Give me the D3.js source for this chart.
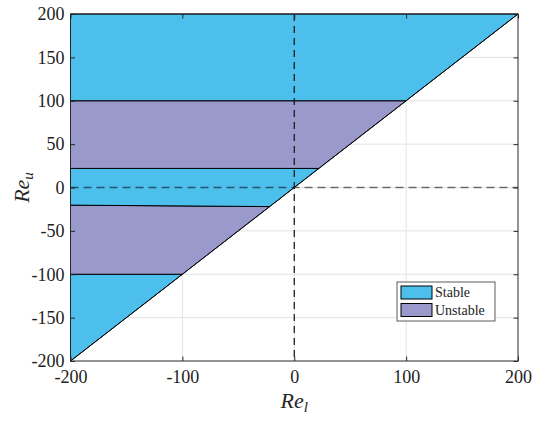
<!DOCTYPE html>
<html>
<head>
<meta charset="utf-8">
<script src="https://cdn.jsdelivr.net/npm/d3@7"></script>
<style>
  body { margin: 0; background: #fff; }
  text { font-family: 'Liberation Serif', 'DejaVu Serif', serif; }
</style>
</head>
<body>
<div class="js-canvas"></div>
<script>
'use strict';

// band boundaries, read at the left edge (Re_l = -200) and where they meet the diagonal
const boundLeft = [-200, -100, -20.3, 22, 100, 200];
const boundRight = [-200, -100, -22, 22, 100, 200];
const bandState = ['Stable', 'Unstable', 'Stable', 'Unstable', 'Stable'];
const xTicks = [-200, -100, 0, 100, 200];
const yTicks = [-200, -150, -100, -50, 0, 50, 100, 150, 200];
const legendItems = ['Stable', 'Unstable'];

const config = {
    width: 538,
    height: 446,
    margin: { top: 14, right: 20, bottom: 85, left: 70.5 },
    colors: { Stable: '#4dbfec', Unstable: '#9999cb' },
    font: "'Liberation Serif', 'DejaVu Serif', serif"
};

const graphWidth = config.width - config.margin.left - config.margin.right;
const graphHeight = config.height - config.margin.top - config.margin.bottom;

const svg = d3.select('.js-canvas')
    .append('svg')
    .attr('width', config.width)
    .attr('height', config.height);

const graph = svg.append('g')
    .attr('transform', `translate(${config.margin.left}, ${config.margin.top})`);

const x = d3.scaleLinear().domain([-200, 200]).range([0, graphWidth]);
const y = d3.scaleLinear().domain([-200, 200]).range([graphHeight, 0]);

// grid (behind the patches)
graph.append('g')
    .selectAll('line')
    .data(xTicks.slice(1, -1))
    .enter().append('line')
    .attr('x1', d => x(d)).attr('x2', d => x(d))
    .attr('y1', 0).attr('y2', graphHeight)
    .attr('stroke', '#e3e3e3').attr('stroke-width', 1);

graph.append('g')
    .selectAll('line')
    .data(yTicks.slice(1, -1))
    .enter().append('line')
    .attr('y1', d => y(d)).attr('y2', d => y(d))
    .attr('x1', 0).attr('x2', graphWidth)
    .attr('stroke', '#e3e3e3').attr('stroke-width', 1);

// patches between consecutive boundaries, clipped by the diagonal Re_u = Re_l
const bands = bandState.map((state, i) => ({
    state,
    pts: [
        [-200, boundLeft[i]],
        [-200, boundLeft[i + 1]],
        [boundRight[i + 1], boundRight[i + 1]],
        [boundRight[i], boundRight[i]]
    ]
}));

const line = d3.line().x(d => x(d[0])).y(d => y(d[1]));

graph.append('g')
    .selectAll('path')
    .data(bands)
    .enter().append('path')
    .attr('d', d => line(d.pts) + 'Z')
    .attr('fill', d => config.colors[d.state])
    .attr('stroke', '#000')
    .attr('stroke-width', 1);

// diagonal
graph.append('path')
    .attr('d', line([[-200, -200], [200, 200]]))
    .attr('stroke', '#000').attr('stroke-width', 0.8).attr('fill', 'none');

// dashed zero lines
graph.append('line')
    .attr('x1', 0).attr('x2', graphWidth)
    .attr('y1', y(0)).attr('y2', y(0))
    .attr('stroke', '#000').attr('stroke-opacity', 0.55)
    .attr('stroke-width', 1.6).attr('stroke-dasharray', '8,5');

graph.append('line')
    .attr('x1', x(0)).attr('x2', x(0))
    .attr('y1', 0).attr('y2', graphHeight)
    .attr('stroke', '#111').attr('stroke-width', 1.2).attr('stroke-dasharray', '7,5');

// axes box and inward ticks
const tickLen = 4.5;
const axisColor = '#262626';

graph.append('rect')
    .attr('x', 0).attr('y', 0)
    .attr('width', graphWidth).attr('height', graphHeight)
    .attr('fill', 'none').attr('stroke', axisColor).attr('stroke-width', 1);

const xAxis = d3.axisBottom(x).tickValues(xTicks).tickSize(-tickLen).tickPadding(9)
    .tickFormat(d => String(d));
const yAxis = d3.axisLeft(y).tickValues(yTicks).tickSize(-tickLen).tickPadding(6)
    .tickFormat(d => String(d));
const xAxisTop = d3.axisTop(x).tickValues(xTicks).tickSize(-tickLen).tickFormat('');
const yAxisRight = d3.axisRight(y).tickValues(yTicks).tickSize(-tickLen).tickFormat('');

const styleAxis = g => {
    g.attr('font-family', config.font).attr('font-size', 18);
    g.select('.domain').remove();
    g.selectAll('line').attr('stroke', axisColor);
    g.selectAll('text')
        .attr('fill', '#222')
        .style('font-family', config.font)
        .style('font-size', '18px');
};

graph.append('g').attr('transform', `translate(0, ${graphHeight})`).call(xAxis).call(styleAxis);
graph.append('g').call(yAxis).call(styleAxis);
graph.append('g').call(xAxisTop).call(styleAxis);
graph.append('g').attr('transform', `translate(${graphWidth}, 0)`).call(yAxisRight).call(styleAxis);

// axis labels
const xLabel = svg.append('text')
    .attr('x', config.margin.left + x(0))
    .attr('y', 408)
    .attr('text-anchor', 'middle')
    .attr('font-family', config.font)
    .attr('font-size', 22)
    .attr('font-style', 'italic')
    .attr('fill', '#262626');
xLabel.append('tspan').text('Re');
xLabel.append('tspan').attr('dy', 4).attr('font-size', 15).text('l');

const yLabel = svg.append('text')
    .attr('transform', `translate(29, ${config.margin.top + y(0)}) rotate(-90)`)
    .attr('text-anchor', 'middle')
    .attr('font-family', config.font)
    .attr('font-size', 22)
    .attr('font-style', 'italic')
    .attr('fill', '#262626');
yLabel.append('tspan').text('Re');
yLabel.append('tspan').attr('dy', 4).attr('font-size', 15).text('u');

// legend
const legend = svg.append('g').attr('transform', 'translate(397, 282)');
legend.append('rect')
    .attr('width', 98).attr('height', 39)
    .attr('fill', '#fff').attr('stroke', '#333').attr('stroke-width', 0.8);

const items = legend.selectAll('g.item')
    .data(legendItems)
    .enter().append('g')
    .attr('class', 'item')
    .attr('transform', (d, i) => `translate(4, ${4 + i * 17.5})`);

items.append('rect')
    .attr('width', 31).attr('height', 13)
    .attr('fill', d => config.colors[d])
    .attr('stroke', '#000').attr('stroke-width', 1);

items.append('text')
    .attr('x', 34).attr('y', 11)
    .attr('font-family', config.font)
    .attr('font-size', 14)
    .attr('fill', '#222')
    .text(d => d);
</script>
</body>
</html>
